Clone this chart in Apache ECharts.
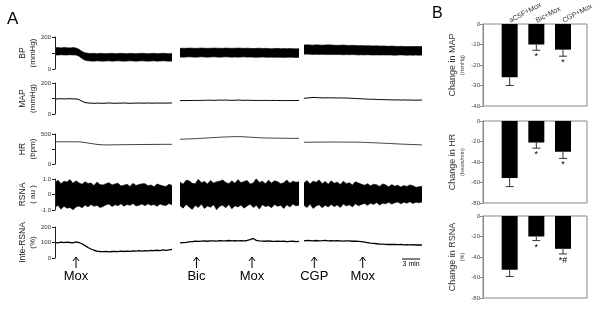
<!DOCTYPE html>
<html><head><meta charset="utf-8">
<script src="https://cdn.jsdelivr.net/npm/echarts@6/dist/echarts.min.js"></script>
<style>html,body{margin:0;padding:0;background:#fff}#c{width:600px;height:328px}</style>
</head><body><div id="c"></div>
<script>
const FONT = "'Liberation Sans', Arial, sans-serif";
const DT = 0.5;          // minutes between samples
const SEG_MAX = 19.5;    // minutes shown per recording segment

// ---------- Panel A: recordings (3 segments each, 40 samples, t = 0..19.5 min) ----------
const bpUpper = [
 [133,134,132,135,133,132,134,131,124,110, 101,98,97,98,96,98,97,96,97,98, 96,97,98,97,96,98,97,96,97,98, 97,96,97,98,96,97,98,97,96,97],
 [129,130,129,131,130,129,130,131,130,129, 130,131,130,130,129,131,130,129,130,131, 130,129,130,129,128,129,130,128,129,128, 127,128,129,127,128,127,128,127,126,127],
 [150,151,150,149,151,150,149,150,151,150, 149,148,149,150,148,147,148,147,146,147, 145,146,145,144,145,143,144,143,142,143, 142,141,142,141,140,141,140,141,140,140]
];
const bpLower = [
 [88,87,89,88,87,89,88,87,80,66, 55,51,50,49,51,50,49,50,51,49, 50,51,50,49,50,51,50,49,50,51, 50,49,50,51,49,50,51,50,49,50],
 [75,74,75,76,75,74,75,76,75,74, 75,76,75,74,75,76,75,74,75,74, 75,76,74,75,74,73,74,75,74,73, 74,73,74,73,72,73,74,73,72,73],
 [92,93,92,91,92,91,92,91,90,91, 90,91,90,89,90,89,90,89,88,89, 88,89,88,87,88,87,88,87,88,87, 86,87,88,87,86,87,86,87,86,87]
];
const mapTrace = [
 [98,97,99,97,98,99,97,98,93,82, 74,71,70,69,70,70,69,70,71,70, 69,70,70,71,70,69,70,70,71,70, 70,71,70,70,71,70,71,70,71,71],
 [86,87,86,87,87,88,87,88,88,89, 89,88,89,90,89,90,89,88,89,90, 89,88,89,88,88,87,88,87,88,87, 87,88,87,87,86,87,87,86,87,87],
 [101,103,105,107,106,105,104,104,105,104, 104,103,104,103,103,102,101,100,99,98, 97,96,95,95,94,93,93,92,92,91, 91,91,90,91,90,90,90,89,90,90]
];
const hrTrace = [
 [370,370,370,370,370,370,370,370,369,365, 358,350,342,334,327,322,319,318,318,319, 320,320,321,322,322,323,323,324,324,325, 325,326,326,327,327,327,328,328,328,328],
 [412,414,416,418,420,422,425,428,431,434, 437,440,443,446,449,451,453,454,455,456, 455,453,450,447,444,441,438,436,434,433, 432,431,430,430,429,429,428,428,428,428],
 [362,363,363,364,364,365,365,365,366,366, 366,366,366,365,364,366,365,364,363,362, 360,358,356,354,352,350,347,345,342,340, 337,335,332,330,328,326,324,322,320,318]
];
const rsnaUpper = [
 [0.78,0.92,0.70,0.85,0.81,0.96,0.72,0.88,0.75,0.66, 0.82,0.71,0.74,0.58,0.80,0.64,0.61,0.70,0.76,0.62, 0.68,0.73,0.55,0.60,0.66,0.52,0.72,0.58,0.64,0.69, 0.70,0.56,0.62,0.50,0.68,0.61,0.55,0.52,0.66,0.58],
 [0.80,0.66,0.92,0.88,0.72,0.70,0.98,0.76,0.84,0.68, 0.90,0.74,0.82,0.86,0.94,0.78,0.70,0.88,0.72,0.96, 0.76,0.84,0.91,0.68,0.74,1.02,0.78,0.86,0.70,0.92, 0.74,0.88,0.83,0.70,0.76,0.94,0.72,0.86,0.79,0.82],
 [0.74,0.90,0.68,0.86,0.79,0.94,0.70,0.84,0.66,0.88, 0.72,0.80,0.64,0.86,0.70,0.76,0.62,0.82,0.74,0.66, 0.60,0.70,0.56,0.66,0.63,0.52,0.68,0.62,0.50,0.64, 0.54,0.60,0.48,0.58,0.52,0.62,0.57,0.46,0.50,0.54]
];
const rsnaLower = [
 [-0.82,-0.70,-0.95,-0.76,-0.88,-0.84,-0.98,-0.80,-0.74,-0.86, -0.68,-0.80,-0.64,-0.76,-0.70,-0.84,-0.78,-0.66,-0.62,-0.78, -0.66,-0.72,-0.60,-0.76,-0.64,-0.70,-0.58,-0.74,-0.69,-0.62, -0.72,-0.60,-0.70,-0.64,-0.76,-0.62,-0.68,-0.71,-0.58,-0.66],
 [-0.72,-0.88,-0.64,-0.80,-0.96,-0.70,-0.84,-0.62,-0.90,-0.74, -0.82,-0.66,-0.98,-0.76,-0.70,-0.86,-0.64,-0.92,-0.72,-0.80, -0.68,-0.88,-0.74,-0.62,-0.84,-0.70,-0.94,-0.66,-0.78,-0.72, -0.86,-0.64,-0.76,-0.70,-0.90,-0.66,-0.80,-0.62,-0.74,-0.68],
 [-0.70,-0.84,-0.62,-0.90,-0.74,-0.66,-0.86,-0.70,-0.80,-0.64, -0.78,-0.68,-0.84,-0.62,-0.74,-0.66,-0.80,-0.60,-0.72,-0.64, -0.58,-0.70,-0.56,-0.64,-0.52,-0.68,-0.56,-0.60,-0.50,-0.62, -0.54,-0.48,-0.60,-0.50,-0.56,-0.46,-0.58,-0.50,-0.54,-0.48]
];
const inteTrace = [
 [101,98,102,99,103,100,98,104,99,92, 80,68,58,50,45,42,41,43,40,42, 43,41,44,42,45,43,46,44,47,45, 48,46,49,47,50,48,52,49,53,55],
 [97,99,101,104,106,108,107,109,110,108, 110,111,109,112,110,111,113,111,112,110, 112,111,113,118,126,114,110,109,108,110, 108,107,109,107,108,106,107,108,106,107],
 [111,113,112,110,113,111,112,114,111,112, 110,112,111,109,111,110,108,109,107,105, 102,99,96,94,92,90,89,88,87,88, 87,86,87,85,86,85,86,84,85,84]
];
// drug injections: segment index, time (min), label
const eventSeg   = [0, 1, 1, 2, 2];
const eventTime  = [3.5, 2.7, 11.8, 1.7, 9.7];
const eventLabel = ['Mox', 'Bic', 'Mox', 'CGP', 'Mox'];
const scaleBarStart = 16.2, scaleBarLen = 3, scaleBarText = '3 min';

// ---------- Panel B: group means ----------
const groups   = ['aCSF+Mox', 'Bic+Mox', 'CGP+Mox'];
const mapMean  = [-26, -10, -12.5];
const mapErr   = [4, 2.8, 3.2];
const mapSig   = ['', '*', '*'];
const hrMean   = [-55.5, -21, -30];
const hrErr    = [8.5, 5.5, 6.5];
const hrSig    = ['', '*', '*'];
const rsnaMean = [-52.5, -20, -32];
const rsnaErr  = [6.5, 4, 5];
const rsnaSig  = ['', '*', '*#'];

// ---------- build ----------
const pairs = arr => arr.map((v, i) => [i * DT, v]);
const segLeft = [55, 180, 304], segWidth = [117, 119, 118];
const rows = [
  {top: 37,  height: 32, min: 0,  max: 200, interval: 100, n1: 'BP',        n2: '(mmHg)', show: v => v !== 100},
  {top: 83,  height: 31, min: 0,  max: 200, interval: 100, n1: 'MAP',       n2: '(mmHg)', show: v => v !== 100},
  {top: 134, height: 30, min: 0,  max: 500, interval: 250, n1: 'HR',        n2: '(bpm)',  show: v => v !== 250},
  {top: 179, height: 31, min: -1, max: 1,   interval: 1,   n1: 'RSNA',      n2: '( au )', show: v => true, fmt: v => v === 0 ? '0' : v.toFixed(1)},
  {top: 227, height: 31, min: 0,  max: 200, interval: 100, n1: 'Inte-RSNA', n2: '(%)',    show: v => true}
];
const grid = [], xAxis = [], yAxis = [], series = [];
// band between an upper and a lower envelope: black fill up to the upper edge, white fill up to the lower edge
function band(base, up, lo) {
  series.push(Object.assign({}, base, {data: pairs(up), z: 2, lineStyle: {width: 0.6, color: '#000'},
    areaStyle: {color: '#000', opacity: 1, origin: 'start'}}));
  series.push(Object.assign({}, base, {data: pairs(lo), z: 3, lineStyle: {width: 0.6, color: '#000'},
    areaStyle: {color: '#fff', opacity: 1, origin: 'start'}}));
}
rows.forEach((r, ri) => {
  for (let s = 0; s < 3; s++) {
    const gi = grid.length;
    grid.push({left: segLeft[s], width: segWidth[s], top: r.top, height: r.height});
    xAxis.push({type: 'value', gridIndex: gi, min: 0, max: SEG_MAX, show: false});
    const y = {type: 'value', gridIndex: gi, min: r.min, max: r.max, interval: r.interval, splitLine: {show: false}};
    if (s === 0) {
      Object.assign(y, {
        offset: 2, z: 10,
        axisLine: {show: true, lineStyle: {color: '#222', width: 1}},
        axisTick: {show: true, length: 3, lineStyle: {color: '#222'}},
        axisLabel: {fontSize: 6, margin: 2, color: '#333', fontFamily: FONT,
          formatter: v => r.show(v) ? (r.fmt ? r.fmt(v) : String(v)) : ''},
        name: '{a|' + r.n1 + '}\n{b|' + r.n2 + '}', nameLocation: 'middle', nameRotate: 90, nameGap: 15,
        nameTextStyle: {rich: {a: {fontSize: 8.5, color: '#222', fontFamily: FONT, lineHeight: 10},
                               b: {fontSize: 8, color: '#222', fontFamily: FONT, lineHeight: 10}}}
      });
    } else {
      y.show = false;
    }
    yAxis.push(y);
    const base = {xAxisIndex: gi, yAxisIndex: gi, type: 'line', symbol: 'none', silent: true, animation: false};
    if (ri === 0) {
      band(base, bpUpper[s], bpLower[s]);
    } else if (ri === 1) {
      series.push(Object.assign({}, base, {data: pairs(mapTrace[s]), lineStyle: {width: 1, color: '#000'}}));
    } else if (ri === 2) {
      series.push(Object.assign({}, base, {data: pairs(hrTrace[s]), lineStyle: {width: 0.8, color: '#111'}}));
    } else if (ri === 3) {
      band(base, rsnaUpper[s], rsnaLower[s]);
    } else {
      series.push(Object.assign({}, base, {data: pairs(inteTrace[s]), lineStyle: {width: 1.3, color: '#000'}}));
    }
  }
});

// Panel B
const bRows = [
  {top: 24,  min: -40, max: 0, interval: 10, n1: 'Change in MAP',  n2: '(mmHg)',      mean: mapMean,  err: mapErr,  sig: mapSig},
  {top: 121, min: -80, max: 0, interval: 20, n1: 'Change in HR',   n2: '(beats/min)', mean: hrMean,   err: hrErr,   sig: hrSig},
  {top: 216, min: -80, max: 0, interval: 20, n1: 'Change in RSNA', n2: '(%)',         mean: rsnaMean, err: rsnaErr, sig: rsnaSig}
];
bRows.forEach((b, bi) => {
  const gi = grid.length;
  grid.push({left: 483, width: 104, top: b.top, height: 82, show: true, borderColor: '#888', borderWidth: 1});
  xAxis.push({type: 'value', gridIndex: gi, min: 0, max: 3.9, interval: 1, position: 'top',
    axisLine: {show: false}, axisTick: {show: false}, splitLine: {show: false},
    axisLabel: {show: bi === 0, rotate: 28, fontSize: 7, color: '#333', margin: 3, fontFamily: FONT,
      showMinLabel: false, showMaxLabel: false, formatter: v => groups[v - 1] || ''}});
  yAxis.push({type: 'value', gridIndex: gi, min: b.min, max: b.max, interval: b.interval, splitLine: {show: false},
    axisLine: {show: true, lineStyle: {color: '#888'}}, axisTick: {show: true, length: 3, lineStyle: {color: '#888'}},
    axisLabel: {fontSize: 6, color: '#444', margin: 3, fontFamily: FONT},
    name: '{a|' + b.n1 + '}\n{b|' + b.n2 + '}', nameLocation: 'middle', nameRotate: 90, nameGap: 17,
    nameTextStyle: {rich: {a: {fontSize: 9, color: '#333', fontFamily: FONT, lineHeight: 11},
                           b: {fontSize: 5.5, color: '#444', fontFamily: FONT, lineHeight: 8}}}});
  series.push({type: 'bar', xAxisIndex: gi, yAxisIndex: gi, barWidth: 16, silent: true, animation: false,
    itemStyle: {color: '#000'}, data: b.mean.map((v, i) => [i + 1, v])});
  series.push({type: 'custom', xAxisIndex: gi, yAxisIndex: gi, silent: true, animation: false, z: 5,
    data: b.mean.map((v, i) => [i + 1, v, b.err[i]]),
    renderItem: (params, api) => {
      const x = api.value(0), v = api.value(1), e = api.value(2);
      const p1 = api.coord([x, v]), p2 = api.coord([x, v - e]);
      return {type: 'group', children: [
        {type: 'line', shape: {x1: p1[0], y1: p1[1], x2: p2[0], y2: p2[1]}, style: {stroke: '#333', lineWidth: 1}},
        {type: 'line', shape: {x1: p2[0] - 4, y1: p2[1], x2: p2[0] + 4, y2: p2[1]}, style: {stroke: '#333', lineWidth: 1}},
        {type: 'text', x: p2[0], y: p2[1] + 2, style: {text: b.sig[params.dataIndex], fontSize: 9, fontFamily: FONT,
          align: 'center', verticalAlign: 'top', fill: '#000'}}
      ]};
    }});
});

const chart = echarts.init(document.getElementById('c'), null, {renderer: 'canvas'});
chart.setOption({animation: false, backgroundColor: '#fff', grid, xAxis, yAxis, series});

// annotations positioned through the axes
const graphic = [
  {type: 'text', left: 7, top: 11, style: {text: 'A', fontSize: 17, fontFamily: FONT, fill: '#000'}},
  {type: 'text', left: 432, top: 6, style: {text: 'B', fontSize: 16, fontFamily: FONT, fill: '#000'}}
];
const inteRow = 4;
eventTime.forEach((t, i) => {
  const x = chart.convertToPixel({xAxisIndex: inteRow * 3 + eventSeg[i]}, t);
  graphic.push({type: 'line', shape: {x1: x, y1: 257, x2: x, y2: 268}, style: {stroke: '#000', lineWidth: 1}});
  graphic.push({type: 'polyline', shape: {points: [[x - 3, 261], [x, 257], [x + 3, 261]]}, style: {stroke: '#000', lineWidth: 1, fill: null}});
  graphic.push({type: 'text', x: x, y: 270, style: {text: eventLabel[i], fontSize: 13, fontFamily: FONT, fill: '#000', align: 'center', verticalAlign: 'top'}});
});
const sx1 = chart.convertToPixel({xAxisIndex: inteRow * 3 + 2}, scaleBarStart);
const sx2 = chart.convertToPixel({xAxisIndex: inteRow * 3 + 2}, scaleBarStart + scaleBarLen);
graphic.push({type: 'line', shape: {x1: sx1, y1: 259, x2: sx2, y2: 259}, style: {stroke: '#000', lineWidth: 1}});
graphic.push({type: 'text', x: (sx1 + sx2) / 2, y: 261, style: {text: scaleBarText, fontSize: 7, fontFamily: FONT, fill: '#000', align: 'center', verticalAlign: 'top'}});
chart.setOption({graphic});
</script></body></html>
